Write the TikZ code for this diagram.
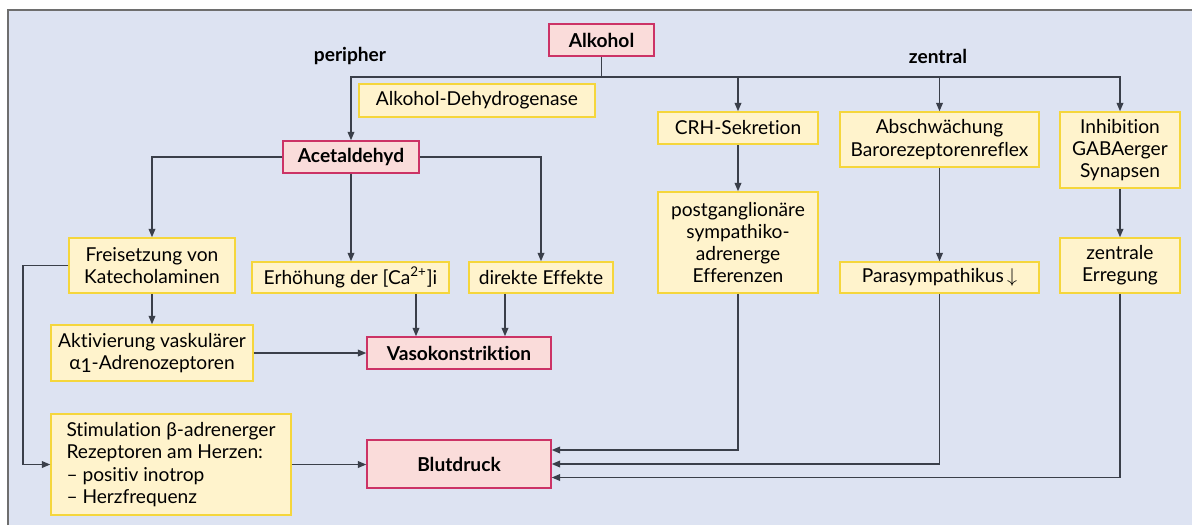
\documentclass[tikz,border=0pt]{standalone}
\usepackage{fontspec}
\setmainfont{Lato}[Ligatures=NoCommon]
\usetikzlibrary{arrows.meta}

\definecolor{flaeche}{HTML}{DDE3F2}
\definecolor{gelbgrund}{HTML}{FFF3CC}
\definecolor{gelbrand}{HTML}{F5D63C}
\definecolor{rosagrund}{HTML}{FADCDA}
\definecolor{rosarand}{HTML}{CC3366}
\definecolor{strich}{HTML}{3A3F4A}
\definecolor{rahmenfarbe}{HTML}{6E6E6E}

\tikzset{
  gelb/.style={draw=gelbrand,fill=gelbgrund,line width=0.9pt,align=center,inner sep=2pt},
  rosa/.style={draw=rosarand,fill=rosagrund,line width=0.9pt,inner sep=2pt,
    font=\fontsize{11.5}{13.4}\selectfont\bfseries},
  gr/.style 2 args={minimum width=#1*0.6pt,minimum height=#2*0.6pt},
  verb/.style={draw=strich,line width=0.8pt},
  pfeil/.style={verb,-{Triangle[length=5pt,width=4pt]}}
}

\begin{document}
\begin{tikzpicture}[x=0.6pt,y=-0.6pt,font=\fontsize{11.5}{13.4}\selectfont]
				\useasboundingbox (0,0) rectangle (1192,525);
				% background panel
				\fill[flaeche] (8,10) rectangle (1192,525);
				\draw[rahmenfarbe,line width=1.2pt] (8,525) -- (8,10) -- (1192,10);
				% top and the two branches
				\node[rosa,gr={105}{32}] (alk) at (601.5,40) {Alkohol};
				\node[font=\fontsize{11.5}{13.4}\selectfont\bfseries] (peri) at (350,56) {peripher};
				\node[font=\fontsize{11.5}{13.4}\selectfont\bfseries] (zent) at (938,56) {zentral};
				\node[gelb,gr={236}{33}] (adh) at (477,100.5) {Alkohol-Dehydrogenase};
				\node[rosa,gr={136}{32}] (acet) at (351,157) {Acetaldehyd};
				\node[gelb,gr={160}{32}] (crh) at (738,128) {CRH-Sekretion};
				\node[gelb,gr={199}{55}] (absch) at (939.5,139.5) {Abschwächung\\Barorezeptorenreflex};
				\node[gelb,gr={120}{76}] (inhib) at (1120,150) {Inhibition\\GABAerger\\Synapsen};
				\node[gelb,gr={160}{101}] (postg) at (738,242.5) {postganglionäre\\sympathiko-\\adrenerge\\Efferenzen};
				\node[gelb,gr={166}{55}] (freis) at (152,265.5) {Freisetzung von\\Katecholaminen};
				\node[gelb,gr={197}{31}] (erh) at (350.5,277.5) {Erhöhung der [Ca\textsuperscript{2+}]i};
				\node[gelb,gr={144}{31}] (direkt) at (541,277.5) {direkte Effekte};
				\node[gelb,gr={199}{31}] (para) at (939.5,277.5) {Parasympathikus\,$\downarrow$};
				\node[gelb,gr={120}{55}] (erreg) at (1120,265.5) {zentrale\\Erregung};
				\node[gelb,gr={202}{56}] (aktiv) at (152,353) {Aktivierung vaskulärer\\α\raisebox{-0.35ex}{1}-Adrenozeptoren};
				\node[rosa,gr={184}{32}] (vaso) at (459,353) {Vasokonstriktion};
				\node[gelb,gr={240}{101},align=left] (stim) at (171,464.5) {Stimulation β-adrenerger\\Rezeptoren am Herzen:\\– positiv inotrop\\– Herzfrequenz};
				\node[rosa,gr={184}{48}] (blut) at (459,464) {Blutdruck};
				% connectors
				\coordinate (split) at (601.5,77);
				\coordinate (links) at (23,0);
				\coordinate (e1) at (416,0);
				\coordinate (e2) at (505,0);
				\draw[verb] (alk) -- (split);
				\draw[pfeil] (split) -| (acet.north);
				\draw[pfeil] (split) -| (crh.north);
				\draw[pfeil] (split) -| (absch.north);
				\draw[pfeil] (split) -| (inhib.north);
				\draw[pfeil] (acet.west) -| (freis.north);
				\draw[pfeil] (acet.south) -- (acet.south |- erh.north);
				\draw[pfeil] (acet.east) -| (direkt.north);
				\draw[pfeil] (crh) -- (postg);
				\draw[pfeil] (absch) -- (para);
				\draw[pfeil] (inhib) -- (erreg);
				\draw[pfeil] (freis) -- (aktiv);
				\draw[pfeil] (aktiv) -- (vaso);
				\draw[pfeil] (erh.south -| e1) -- (vaso.north -| e1);
				\draw[pfeil] (direkt.south -| e2) -- (vaso.north -| e2);
				\draw[pfeil] (freis.west) -- (freis.west -| links) |- (stim.west);
				\draw[pfeil] (stim.east) -- (stim.east -| blut.west);
				\draw[pfeil] (postg.south) |- ([yshift=8.4pt]blut.east);
				\draw[pfeil] (para.south) |- (blut.east);
				\draw[pfeil] (erreg.south) |- ([yshift=-8.1pt]blut.east);
			\end{tikzpicture}
\end{document}
